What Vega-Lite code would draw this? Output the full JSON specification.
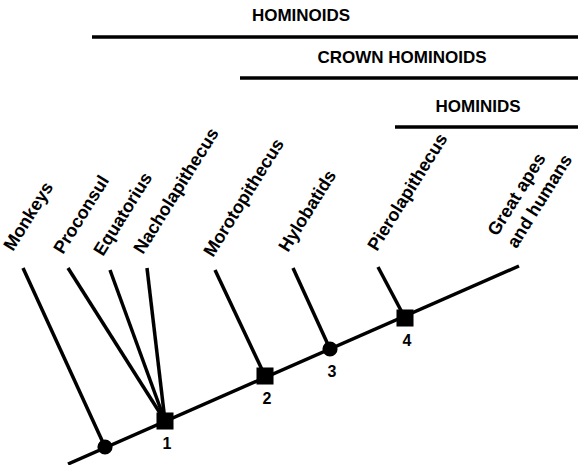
{
  "$schema": "https://vega.github.io/schema/vega-lite/v6.json",
  "width": 578,
  "height": 465,
  "autosize": {"type": "none"},
  "padding": 0,
  "background": "white",
  "config": {"view": {"stroke": null}},
  "datasets": {
    "lines": [
      {"name": "trunk", "x": 68, "y": 1, "x2": 519, "y2": 199},
      {"name": "Monkeys", "x": 23, "y": 197, "x2": 105, "y2": 18},
      {"name": "Proconsul", "x": 68, "y": 197, "x2": 165, "y2": 44},
      {"name": "Equatorius", "x": 110, "y": 195, "x2": 165, "y2": 44},
      {"name": "Nacholapithecus", "x": 147, "y": 197, "x2": 165, "y2": 44},
      {"name": "Morotopithecus", "x": 215, "y": 195, "x2": 265, "y2": 89},
      {"name": "Hylobatids", "x": 293, "y": 197, "x2": 330, "y2": 116},
      {"name": "Pierolapithecus", "x": 378, "y": 198, "x2": 405, "y2": 147},
      {"name": "HOMINOIDS", "x": 92, "y": 428, "x2": 578, "y2": 428},
      {"name": "CROWN HOMINOIDS", "x": 240, "y": 387, "x2": 578, "y2": 387},
      {"name": "HOMINIDS", "x": 395, "y": 338, "x2": 578, "y2": 338}
    ],
    "nodes": [
      {"x": 105, "y": 18, "kind": "circle", "label": ""},
      {"x": 165, "y": 44, "kind": "square", "label": "1"},
      {"x": 265, "y": 89, "kind": "square", "label": "2"},
      {"x": 330, "y": 116, "kind": "circle", "label": "3"},
      {"x": 405, "y": 147, "kind": "square", "label": "4"}
    ],
    "tips": [
      {"x": 13, "y": 213, "label": "Monkeys"},
      {"x": 63, "y": 210, "label": "Proconsul"},
      {"x": 103, "y": 208, "label": "Equatorius"},
      {"x": 143, "y": 210, "label": "Nacholapithecus"},
      {"x": 213, "y": 207, "label": "Morotopithecus"},
      {"x": 288, "y": 212, "label": "Hylobatids"},
      {"x": 377, "y": 213, "label": "Pierolapithecus"},
      {"x": 497, "y": 228, "label": "Great apes\nand humans"}
    ],
    "headers": [
      {"x": 301, "y": 449, "label": "HOMINOIDS"},
      {"x": 402, "y": 407, "label": "CROWN HOMINOIDS"},
      {"x": 478, "y": 358, "label": "HOMINIDS"}
    ]
  },
  "layer": [
    {
      "data": {"name": "lines"},
      "mark": {"type": "rule", "color": "black", "strokeWidth": 3.5},
      "encoding": {
        "x": {"field": "x", "type": "quantitative", "scale": {"domain": [0, 578], "nice": false, "zero": false}, "axis": null},
        "y": {"field": "y", "type": "quantitative", "scale": {"domain": [0, 465], "nice": false, "zero": false}, "axis": null},
        "x2": {"field": "x2"},
        "y2": {"field": "y2"}
      }
    },
    {
      "data": {"name": "nodes"},
      "mark": {"type": "point", "filled": true, "opacity": 1, "color": "black"},
      "encoding": {
        "x": {"field": "x", "type": "quantitative", "axis": null},
        "y": {"field": "y", "type": "quantitative", "axis": null},
        "shape": {"field": "kind", "type": "nominal", "scale": {"domain": ["circle", "square"], "range": ["circle", "square"]}, "legend": null},
        "size": {"field": "kind", "type": "nominal", "scale": {"domain": ["circle", "square"], "range": [230, 290]}, "legend": null}
      }
    },
    {
      "data": {"name": "nodes"},
      "transform": [{"filter": "datum.label != ''"}],
      "mark": {"type": "text", "font": "Liberation Sans", "fontWeight": "bold", "fontSize": 16, "color": "black", "dx": 2, "dy": 23, "baseline": "middle", "align": "center"},
      "encoding": {
        "x": {"field": "x", "type": "quantitative", "axis": null},
        "y": {"field": "y", "type": "quantitative", "axis": null},
        "text": {"field": "label"}
      }
    },
    {
      "data": {"name": "tips"},
      "mark": {"type": "text", "font": "Liberation Sans", "fontWeight": "bold", "fontSize": 18, "color": "black", "angle": -58, "align": "left", "baseline": "alphabetic", "lineBreak": "\n", "lineHeight": 23},
      "encoding": {
        "x": {"field": "x", "type": "quantitative", "axis": null},
        "y": {"field": "y", "type": "quantitative", "axis": null},
        "text": {"field": "label"}
      }
    },
    {
      "data": {"name": "headers"},
      "mark": {"type": "text", "font": "Liberation Sans", "fontWeight": "bold", "fontSize": 17, "color": "black", "align": "center", "baseline": "middle"},
      "encoding": {
        "x": {"field": "x", "type": "quantitative", "axis": null},
        "y": {"field": "y", "type": "quantitative", "axis": null},
        "text": {"field": "label"}
      }
    }
  ]
}
